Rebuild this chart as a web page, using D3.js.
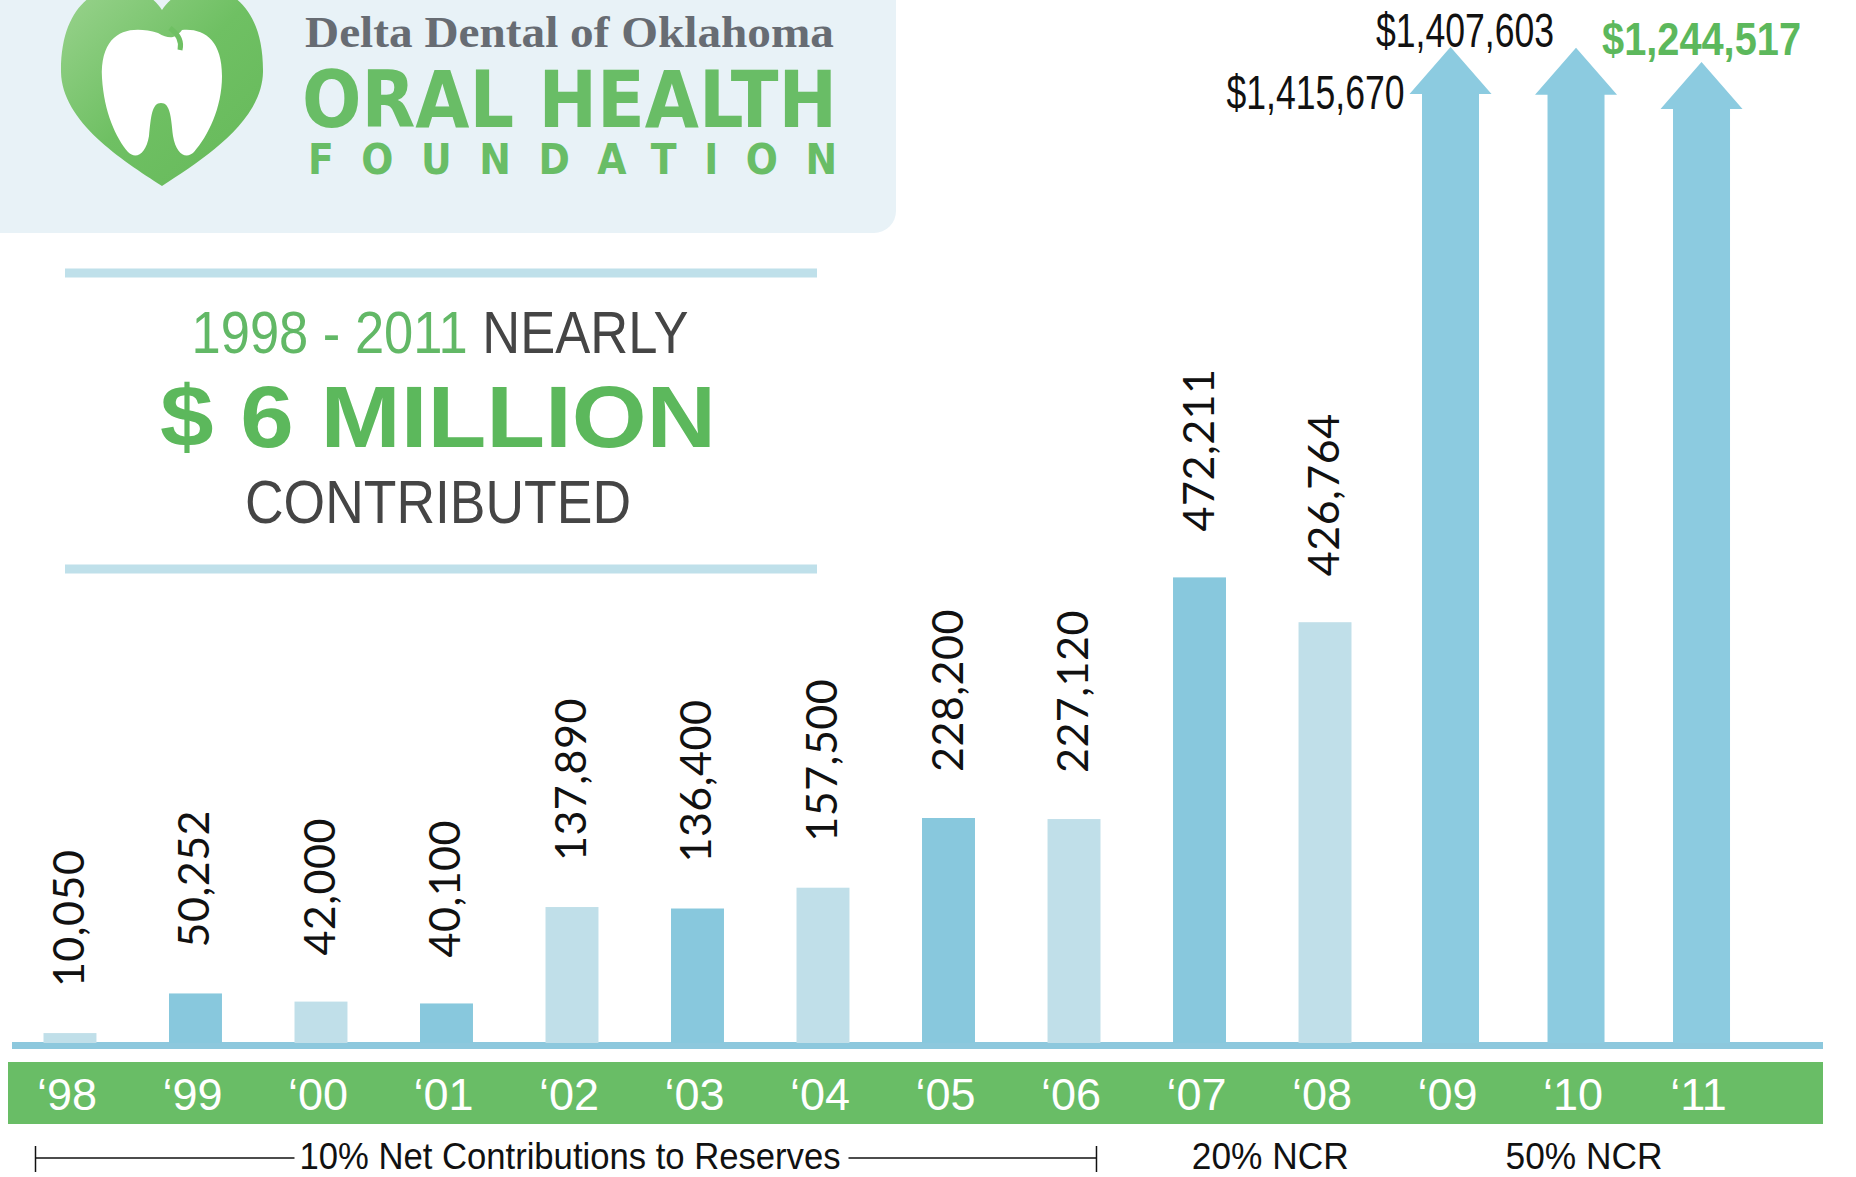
<!DOCTYPE html>
<html>
<head>
<meta charset="utf-8">
<script src="https://cdn.jsdelivr.net/npm/d3@7"></script>
<style>
  html, body { margin: 0; padding: 0; background: #fff; }
  svg { display: block; }
</style>
</head>
<body>
<div id="chart"></div>
<script>
// data
const years = ["\u201898", "\u201899", "\u201800", "\u201801", "\u201802", "\u201803", "\u201804",
  "\u201805", "\u201806", "\u201807", "\u201808", "\u201809", "\u201810", "\u201811"];
const contributions = [10050, 50252, 42000, 40100, 137890, 136400, 157500,
  228200, 227120, 472211, 426764, 1415670, 1407603, 1244517];
const phaseLabels = ["10% Net Contributions to Reserves", "20% NCR", "50% NCR"];
const phaseFirst = [0, 9, 11];
const phaseLast = [8, 10, 13];

const W = 1856, H = 1177;
const green = "#69bd66", darkBlue = "#88c8dd", lightBlue = "#c0dfe9";

const svg = d3.select("#chart").append("svg")
  .attr("width", W).attr("height", H);

// ---- header panel + logo ----
svg.append("rect")
  .attr("x", -20).attr("y", -30).attr("width", 916).attr("height", 263)
  .attr("rx", 22).attr("fill", "#e8f2f7");

const defs = svg.append("defs");
const grad = defs.append("linearGradient").attr("id", "heartGrad")
  .attr("x1", "0").attr("y1", "0").attr("x2", "1").attr("y2", "1");
grad.append("stop").attr("offset", "0").attr("stop-color", "#9ad38e");
grad.append("stop").attr("offset", "0.5").attr("stop-color", "#6fc063");
grad.append("stop").attr("offset", "1").attr("stop-color", "#66b95a");

const logo = svg.append("g");
logo.append("path")
  .attr("d", "M162,10 C138,-28 60,-24 61,72 C62,122 122,160 162,186 C202,160 262,122 263,72 C264,-24 186,-28 162,10 Z")
  .attr("fill", "url(#heartGrad)");
logo.append("path")
  .attr("d", "M158,33 C128,24 100,32 102,78 C104,112 116,138 128,152 C136,160 146,154 149,136 C151,116 152,103 161,103 C170,103 171,116 173,136 C176,154 186,160 194,152 C208,136 222,108 222,76 C222,40 204,28 182,30 C176,38 170,40 158,33 Z")
  .attr("fill", "#fff");
logo.append("path")
  .attr("d", "M170,28 C178,34 182,42 180,50")
  .attr("fill", "none").attr("stroke", "#6fc063").attr("stroke-width", 5);

svg.append("text")
  .attr("x", 305).attr("y", 47)
  .attr("textLength", 529).attr("lengthAdjust", "spacingAndGlyphs")
  .style("font-family", "'Liberation Serif', 'DejaVu Serif', serif")
  .style("font-size", "45px").style("font-weight", "bold")
  .attr("fill", "#676c73")
  .text("Delta Dental of Oklahoma");

svg.append("text")
  .attr("x", 302).attr("y", 127)
  .attr("textLength", 535).attr("lengthAdjust", "spacingAndGlyphs")
  .style("font-family", "'DejaVu Sans Condensed', 'DejaVu Sans', sans-serif")
  .style("font-size", "78px").style("font-weight", "bold")
  .attr("fill", green)
  .text("ORAL HEALTH");

svg.append("text")
  .attr("x", 308).attr("y", 174)
  .attr("textLength", 529).attr("lengthAdjust", "spacing")
  .style("font-family", "'DejaVu Sans Condensed', 'DejaVu Sans', sans-serif")
  .style("font-size", "42px").style("font-weight", "bold")
  .attr("fill", green)
  .text("FOUNDATION");

// ---- headline block ----
[273, 569].forEach(y => {
  svg.append("line")
    .attr("x1", 65).attr("x2", 817).attr("y1", y).attr("y2", y)
    .attr("stroke", "#bfe0ea").attr("stroke-width", 9);
});

const narrow = "'Liberation Sans Narrow', 'Arial Narrow', 'Liberation Sans', sans-serif";

const head1 = svg.append("text")
  .attr("x", 440).attr("y", 353).attr("text-anchor", "middle")
  .attr("textLength", 497).attr("lengthAdjust", "spacingAndGlyphs")
  .style("font-family", narrow).style("font-size", "59px");
head1.append("tspan").attr("fill", "#62b866").text("1998 - 2011 ");
head1.append("tspan").attr("fill", "#454545").text("NEARLY");

svg.append("text")
  .attr("x", 438).attr("y", 447).attr("text-anchor", "middle")
  .attr("textLength", 556).attr("lengthAdjust", "spacingAndGlyphs")
  .style("font-family", "'Liberation Sans', Arial, sans-serif")
  .style("font-size", "88px").style("font-weight", "bold")
  .attr("fill", "#5cb85c")
  .text("$ 6 MILLION");

svg.append("text")
  .attr("x", 438).attr("y", 523).attr("text-anchor", "middle")
  .attr("textLength", 386).attr("lengthAdjust", "spacingAndGlyphs")
  .style("font-family", narrow).style("font-size", "61px")
  .attr("fill", "#454545")
  .text("CONTRIBUTED");

// ---- chart ----
const x = d3.scaleBand()
  .domain(years)
  .range([43.5, 1728])
  .paddingInner(0.578)
  .paddingOuter(0);

const yMax = 500000;
const y = d3.scaleLinear().domain([0, yMax]).range([1043, 550]);
// values that run off the chart get their own compressed scale
const yOver = d3.scaleLinear().domain([1200000, 1450000]).range([66, 44]);

const rows = years.map((yr, i) => ({ yr, v: contributions[i], i }));
const inChart = rows.filter(d => d.v <= yMax);
const over = rows.filter(d => d.v > yMax);

// axis strip under the bars
svg.append("rect")
  .attr("x", 12).attr("y", 1042).attr("width", 1811).attr("height", 7)
  .attr("fill", "#8dc8dd");

svg.append("g").selectAll("rect")
  .data(inChart)
  .join("rect")
  .attr("x", d => x(d.yr))
  .attr("y", d => y(d.v))
  .attr("width", x.bandwidth())
  .attr("height", d => y(0) - y(d.v))
  .attr("fill", d => d.i % 2 ? darkBlue : lightBlue);

const fmt = d3.format(",");
svg.append("g").selectAll("text")
  .data(inChart)
  .join("text")
  .attr("transform", d => `translate(${x(d.yr) + x.bandwidth() / 2 + 14},${y(d.v) - 46}) rotate(-90)`)
  .style("font-family", "Lato, 'Open Sans', sans-serif")
  .style("font-size", "43px")
  .style("letter-spacing", "0.5px")
  .attr("fill", "#111")
  .text(d => fmt(d.v));

// arrows for the off-scale years
const shaftW = 57, headW = 82, headH = 47;
svg.append("g").selectAll("path")
  .data(over)
  .join("path")
  .attr("d", d => {
    const cx = x(d.yr) + x.bandwidth() / 2;
    const tip = yOver(d.v), base = y(0);
    const p = d3.path();
    p.moveTo(cx - shaftW / 2, base);
    p.lineTo(cx - shaftW / 2, tip + headH);
    p.lineTo(cx - headW / 2, tip + headH);
    p.lineTo(cx, tip);
    p.lineTo(cx + headW / 2, tip + headH);
    p.lineTo(cx + shaftW / 2, tip + headH);
    p.lineTo(cx + shaftW / 2, base);
    p.closePath();
    return p;
  })
  .attr("fill", "#8ccbe0");

const money = d3.format("$,");
const lastIdx = years.length - 1;
svg.append("g").selectAll("text")
  .data(over)
  .join("text")
  .attr("x", d => {
    const cx = x(d.yr) + x.bandwidth() / 2;
    if (d.i === lastIdx) return cx;
    return d.i % 2 ? cx - 46 : cx - 22;
  })
  .attr("y", d => d.i === lastIdx ? yOver(d.v) - 7 : (d.i % 2 ? 109 : 47))
  .attr("text-anchor", d => d.i === lastIdx ? "middle" : "end")
  .attr("textLength", d => d.i === lastIdx ? 199 : 178)
  .attr("lengthAdjust", "spacingAndGlyphs")
  .style("font-family", d => d.i === lastIdx ? "'Liberation Sans', Arial, sans-serif" : narrow)
  .style("font-weight", d => d.i === lastIdx ? "bold" : "normal")
  .style("font-size", d => d.i === lastIdx ? "46px" : "48px")
  .attr("fill", d => d.i === lastIdx ? "#5cb85c" : "#111")
  .text(d => money(d.v));

// green year band
svg.append("rect")
  .attr("x", 8).attr("y", 1062).attr("width", 1815).attr("height", 62)
  .attr("fill", green);

svg.append("g").selectAll("text")
  .data(years)
  .join("text")
  .attr("x", d => x(d) + x.bandwidth() / 2 - 3)
  .attr("y", 1110)
  .attr("text-anchor", "middle")
  .style("font-family", narrow)
  .style("font-size", "45px")
  .attr("fill", "#fff")
  .text(d => d);

// phase annotations under the band
const phases = phaseLabels.map((label, k) => ({
  label,
  x0: x(years[phaseFirst[k]]) - 8,
  x1: x(years[phaseLast[k]]) + x.bandwidth() - 4,
  bracket: k === 0
}));

const ph = svg.append("g").selectAll("g")
  .data(phases)
  .join("g");

ph.append("text")
  .attr("x", d => d.bracket ? (d.x0 + d.x1) / 2 + 4 : (d.x0 + d.x1) / 2 + 14)
  .attr("y", 1169)
  .attr("text-anchor", "middle")
  .attr("textLength", d => d.bracket ? 541 : 157)
  .attr("lengthAdjust", "spacingAndGlyphs")
  .style("font-family", narrow)
  .style("font-size", "37px")
  .attr("fill", "#111")
  .text(d => d.label);

const br = ph.filter(d => d.bracket);
br.each(function (d) {
  const g = d3.select(this);
  const tb = g.select("text").node().getBBox();
  const segs = [[d.x0, tb.x - 5], [tb.x + tb.width + 8, d.x1]];
  segs.forEach(s => {
    g.append("line")
      .attr("x1", s[0]).attr("x2", s[1])
      .attr("y1", 1158).attr("y2", 1158)
      .attr("stroke", "#111").attr("stroke-width", 1.5);
  });
  [d.x0, d.x1].forEach(v => {
    g.append("line")
      .attr("x1", v).attr("x2", v)
      .attr("y1", 1146).attr("y2", 1172)
      .attr("stroke", "#111").attr("stroke-width", 1.5);
  });
});
</script>
</body>
</html>
